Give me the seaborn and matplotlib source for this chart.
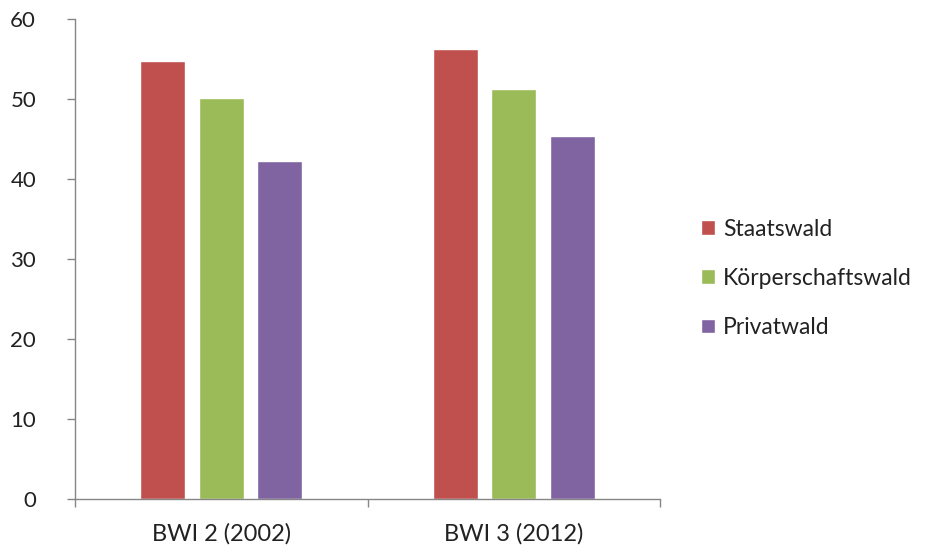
import matplotlib
matplotlib.use("Agg")
import matplotlib.pyplot as plt
import seaborn as sns
import pandas as pd

# data
surveys = ["BWI 2 (2002)", "BWI 3 (2012)"]
owners = ["Staatswald", "Körperschaftswald", "Privatwald"]
staatswald = [54.7, 56.3]
koerperschaftswald = [50.1, 51.3]
privatwald = [42.2, 45.4]
colors = ["#C0504D", "#9BBB59", "#8064A2"]

rows = []
for owner, values in zip(owners, [staatswald, koerperschaftswald, privatwald]):
    for survey, v in zip(surveys, values):
        rows.append({"survey": survey, "owner": owner, "value": v})
df = pd.DataFrame(rows)

sns.set_style("white")
plt.rcParams["font.family"] = ["Lato", "DejaVu Sans"]

fig = plt.figure(figsize=(9.26, 5.49), dpi=100)
ax = fig.add_axes([75 / 926, 50 / 549, 585 / 926, 480 / 549])

sns.barplot(data=df, x="survey", y="value", hue="owner", order=surveys,
            hue_order=owners, palette=colors, width=0.6, gap=0.23,
            saturation=1, ax=ax)

ax.set_xlim(-0.5, 1.5)
ax.set_ylim(0, 60)
ax.set_yticks(range(0, 61, 10))
ax.set_xlabel("")
ax.set_ylabel("")

grey = "#868686"
for side in ["top", "right"]:
    ax.spines[side].set_visible(False)
for side in ["left", "bottom"]:
    ax.spines[side].set_color(grey)
    ax.spines[side].set_linewidth(1)

# category boundary ticks on the x axis, labels centred between them
ax.set_xticks([-0.5, 0.5, 1.5])
ax.set_xticklabels([])
ax.set_xticks([0, 1], minor=True)
ax.set_xticklabels(surveys, minor=True)
ax.tick_params(axis="x", which="major", direction="out", length=6, color=grey, width=1)
ax.tick_params(axis="x", which="minor", length=0, pad=17, labelsize=17, labelcolor="#222222")
ax.tick_params(axis="y", direction="out", length=6, color=grey, width=1, pad=22,
               labelsize=16, labelcolor="#222222")
ax.tick_params(left=True, bottom=True)

leg = ax.legend(loc="center left", bbox_to_anchor=(1.035, 0.46), frameon=False,
                fontsize=16.5, handlelength=0.6, handleheight=0.6,
                labelspacing=1.23, handletextpad=0.35)
for t in leg.get_texts():
    t.set_color("#222222")

fig.savefig("out.png", dpi=100)
